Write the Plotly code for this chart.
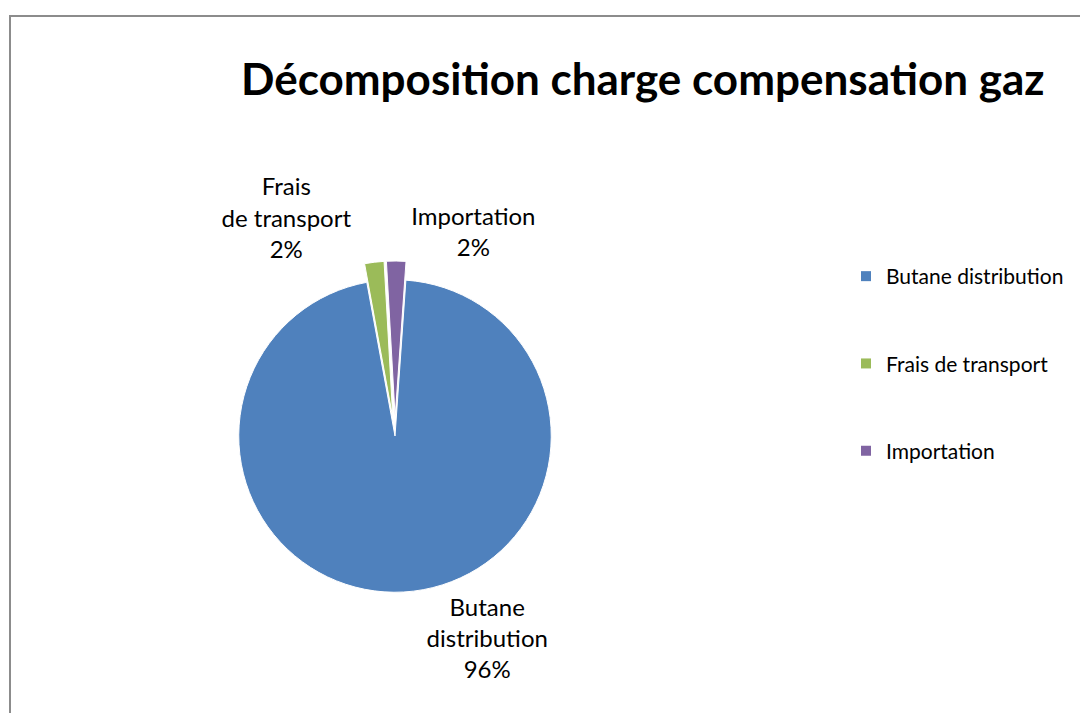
import plotly.graph_objects as go

categories = ["Butane distribution", "Frais de transport", "Importation"]
slice_text = ["Butane<br>distribution", "Frais<br>de transport", "Importation"]
values = [96, 2, 2]
colors = ["#4F81BD", "#9BBB59", "#8064A2"]
pulls = [0, 0.12, 0.12]

# the page body adds an 8px margin, so the figure is offset by 8px
OFF = 8
W, H = 1088 - OFF, 713 - OFF
FONT = "Lato"


def px(x):
    return (x - OFF) / W


def py(y):
    return (H - (y - OFF)) / H


fig = go.Figure()

R = 175
CX, CY = 395, 436
fig.add_trace(go.Pie(
    labels=categories,
    values=values,
    text=slice_text,
    sort=False,
    direction="clockwise",
    rotation=4,
    pull=pulls,
    marker=dict(colors=colors, line=dict(color="white", width=1)),
    texttemplate="%{text}<br>%{percent:.0%}",
    textposition="outside",
    textfont=dict(family=FONT, size=24, color="#000000"),
    showlegend=False,
    hoverinfo="label+percent",
    domain=dict(x=[px(CX - R), px(CX + R)], y=[py(CY + R), py(CY - R)]),
))

# legend entries
for name, col in zip(categories, colors):
    fig.add_trace(go.Scatter(
        x=[None], y=[None], mode="markers", name=name,
        legendgroup=name,
        marker=dict(symbol="square", size=10, color=col),
    ))

fig.update_layout(
    width=W, height=H,
    paper_bgcolor="white", plot_bgcolor="white",
    margin=dict(l=0, r=0, t=0, b=0, autoexpand=False),
    xaxis=dict(visible=False), yaxis=dict(visible=False),
    showlegend=True,
    legend=dict(
        x=px(846), y=py(256), xanchor="left", yanchor="top",
        font=dict(family=FONT, size=21, color="#000000"),
        tracegroupgap=57, itemwidth=30,
        bgcolor="rgba(0,0,0,0)",
    ),
    annotations=[dict(
        text="<b>Décomposition charge compensation gaz</b>",
        xref="paper", yref="paper", x=px(643), y=py(78),
        xanchor="center", yanchor="middle", showarrow=False,
        font=dict(family=FONT, size=44, color="#000000"),
    )],
    shapes=[dict(
        type="rect", xref="paper", yref="paper",
        x0=px(10), y0=-0.3, x1=1.3, y1=py(16),
        line=dict(color="#8C8C8C", width=2), fillcolor="rgba(0,0,0,0)",
    )],
)

fig.write_html("out.html")
